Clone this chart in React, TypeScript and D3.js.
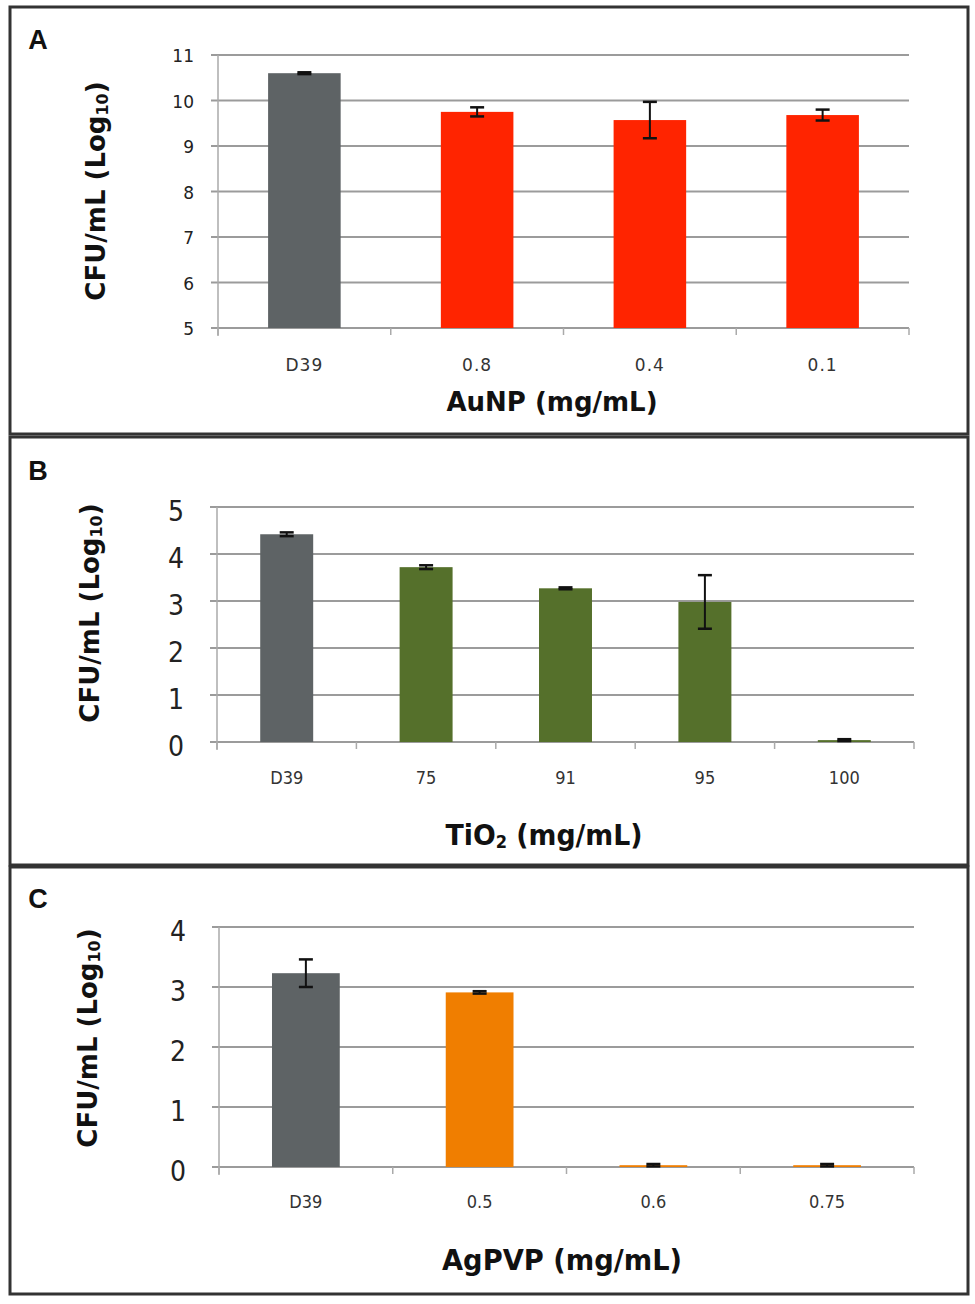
import React, { useEffect, useRef } from 'react';
import * as d3 from 'd3';

// Panel A - AuNP
const aCategories = ['D39', '0.8', '0.4', '0.1'];
const aMeans = [10.6, 9.75, 9.57, 9.68];
const aErrors = [0.02, 0.1, 0.4, 0.12];
const aTicks = [5, 6, 7, 8, 9, 10, 11];

// Panel B - TiO2
const bCategories = ['D39', '75', '91', '95', '100'];
const bMeans = [4.42, 3.72, 3.27, 2.98, 0.04];
const bErrors = [0.04, 0.04, 0.02, 0.57, 0.02];
const bTicks = [0, 1, 2, 3, 4, 5];

// Panel C - AgPVP
const cCategories = ['D39', '0.5', '0.6', '0.75'];
const cMeans = [3.23, 2.91, 0.03, 0.03];
const cErrors = [0.23, 0.02, 0.02, 0.02];
const cTicks = [0, 1, 2, 3, 4];

const controlColor = '#5e6365';

interface PanelSpec {
  letter: string;
  categories: string[];
  means: number[];
  errors: number[];
  ticks: number[];
  color: string;
  xTitle: string;
  xSub?: string;
  xTitleRest?: string;
  frame: [number, number];
  plotX: [number, number];
  plotY: [number, number];
  barPad: number;
  tickFont: number;
  tickFamily: string;
  tickX: number;
  catFont: number;
  catY: number;
  xTitlePos: [number, number];
  xTitleLen?: number;
  yTitlePos: [number, number];
  letterPos: [number, number];
}

const panels: PanelSpec[] = [
  {
    letter: 'A', categories: aCategories, means: aMeans, errors: aErrors, ticks: aTicks,
    color: '#ff2400', xTitle: 'AuNP (mg/mL)',
    frame: [7, 434], plotX: [218, 909], plotY: [55, 328], barPad: 0.58,
    tickFont: 17, tickFamily: "'DejaVu Sans', sans-serif", tickX: 194,
    catFont: 17, catY: 365, xTitlePos: [552, 402], yTitlePos: [96, 191], letterPos: [38, 40],
  },
  {
    letter: 'B', categories: bCategories, means: bMeans, errors: bErrors, ticks: bTicks,
    color: '#55702b', xTitle: 'TiO', xSub: '2', xTitleRest: ' (mg/mL)',
    frame: [437, 865], plotX: [217, 914], plotY: [507, 742], barPad: 0.62,
    tickFont: 28, tickFamily: "'DejaVu Sans Condensed', 'DejaVu Sans', sans-serif", tickX: 184,
    catFont: 18, catY: 777, xTitlePos: [544, 835], xTitleLen: 197, yTitlePos: [90, 613], letterPos: [38, 471],
  },
  {
    letter: 'C', categories: cCategories, means: cMeans, errors: cErrors, ticks: cTicks,
    color: '#f07e00', xTitle: 'AgPVP (mg/mL)',
    frame: [867, 1294], plotX: [219, 914], plotY: [927, 1167], barPad: 0.61,
    tickFont: 28, tickFamily: "'DejaVu Sans Condensed', 'DejaVu Sans', sans-serif", tickX: 186,
    catFont: 18, catY: 1201, xTitlePos: [562, 1260], xTitleLen: 240, yTitlePos: [88, 1038], letterPos: [38, 899],
  },
];

function drawPanel(svg: d3.Selection<SVGSVGElement, unknown, null, undefined>, p: PanelSpec) {
  const g = svg.append('g');

  // panel frame
  g.append('rect')
    .attr('x', 10)
    .attr('y', p.frame[0])
    .attr('width', 958)
    .attr('height', p.frame[1] - p.frame[0])
    .attr('fill', 'none')
    .attr('stroke', '#333')
    .attr('stroke-width', 3);

  g.append('text')
    .attr('x', p.letterPos[0])
    .attr('y', p.letterPos[1])
    .attr('text-anchor', 'middle')
    .attr('dominant-baseline', 'central')
    .attr('font-family', "'Liberation Sans', Arial, sans-serif")
    .attr('font-weight', 'bold')
    .attr('font-size', 27)
    .attr('fill', '#111')
    .text(p.letter);

  const x = d3
    .scaleBand<string>()
    .domain(p.categories)
    .range(p.plotX)
    .paddingInner(p.barPad)
    .paddingOuter(p.barPad / 2);

  const y = d3
    .scaleLinear()
    .domain([p.ticks[0], p.ticks[p.ticks.length - 1]])
    .range([p.plotY[1], p.plotY[0]]);

  // gridlines (extend left as ticks)
  g.selectAll('.grid')
    .data(p.ticks)
    .enter()
    .append('line')
    .attr('x1', p.plotX[0] - 7)
    .attr('x2', p.plotX[1])
    .attr('y1', (d) => y(d))
    .attr('y2', (d) => y(d))
    .attr('stroke', '#9b9b9b')
    .attr('stroke-width', 2);

  // y axis line
  g.append('line')
    .attr('x1', p.plotX[0])
    .attr('x2', p.plotX[0])
    .attr('y1', p.plotY[0])
    .attr('y2', p.plotY[1] + 8)
    .attr('stroke', '#aaa')
    .attr('stroke-width', 1.5);

  // x category boundary ticks
  const step = x.step();
  const bounds = d3.range(p.categories.length + 1).map((i) => p.plotX[0] + i * step);
  g.selectAll('.xtick')
    .data(bounds)
    .enter()
    .append('line')
    .attr('x1', (d) => d)
    .attr('x2', (d) => d)
    .attr('y1', p.plotY[1])
    .attr('y2', p.plotY[1] + 7)
    .attr('stroke', '#aaa')
    .attr('stroke-width', 1.5);

  // y tick labels
  g.selectAll('.ylab')
    .data(p.ticks)
    .enter()
    .append('text')
    .attr('x', p.tickX)
    .attr('y', (d) => y(d) + (p.tickFont > 20 ? 4 : 1))
    .attr('text-anchor', 'end')
    .attr('dominant-baseline', 'central')
    .attr('font-family', p.tickFamily)
    .attr('font-size', p.tickFont)
    .attr('fill', '#222')
    .text((d) => d);

  // bars
  const data = p.categories.map((c, i) => ({ c, m: p.means[i], e: p.errors[i] }));
  g.selectAll('.bar')
    .data(data)
    .enter()
    .append('rect')
    .attr('x', (d) => x(d.c) || 0)
    .attr('width', x.bandwidth())
    .attr('y', (d) => y(d.m))
    .attr('height', (d) => y(p.ticks[0]) - y(d.m))
    .attr('fill', (d, i) => (i === 0 ? controlColor : p.color));

  // error bars
  const eb = g.selectAll('.err').data(data).enter().append('g');
  const cx = (d: { c: string }) => (x(d.c) || 0) + x.bandwidth() / 2;
  eb.append('line')
    .attr('x1', cx)
    .attr('x2', cx)
    .attr('y1', (d) => y(d.m + d.e))
    .attr('y2', (d) => y(d.m - d.e))
    .attr('stroke', '#111')
    .attr('stroke-width', 2);
  [1, -1].forEach((s) => {
    eb.append('line')
      .attr('x1', (d) => cx(d) - 7)
      .attr('x2', (d) => cx(d) + 7)
      .attr('y1', (d) => y(d.m + s * d.e))
      .attr('y2', (d) => y(d.m + s * d.e))
      .attr('stroke', '#111')
      .attr('stroke-width', 2.5);
  });

  // category labels
  g.selectAll('.xlab')
    .data(p.categories)
    .enter()
    .append('text')
    .attr('x', (d) => (x(d) || 0) + x.bandwidth() / 2)
    .attr('y', p.catY)
    .attr('text-anchor', 'middle')
    .attr('dominant-baseline', 'central')
    .attr('font-family', p.tickFamily)
    .attr('font-size', p.catFont)
    .attr('letter-spacing', p.tickFont > 20 ? 0 : 1)
    .attr('fill', '#333')
    .text((d) => d);

  // x title
  const xt = g
    .append('text')
    .attr('x', p.xTitlePos[0])
    .attr('y', p.xTitlePos[1])
    .attr('text-anchor', 'middle')
    .attr('dominant-baseline', 'central')
    .attr('font-family', "'DejaVu Sans', sans-serif")
    .attr('font-weight', 'bold')
    .attr('font-size', p.xTitleLen ? 28 : 26)
    .attr('fill', '#111');
  if (p.xTitleLen) xt.attr('textLength', p.xTitleLen).attr('lengthAdjust', 'spacingAndGlyphs');
  xt.append('tspan').text(p.xTitle);
  if (p.xSub) {
    xt.append('tspan').attr('dy', 7).attr('font-size', 17).text(p.xSub);
    xt.append('tspan').attr('dy', -7).text(p.xTitleRest || '');
  }

  // y title
  const yt = g
    .append('text')
    .attr('transform', `translate(${p.yTitlePos[0]},${p.yTitlePos[1]}) rotate(-90)`)
    .attr('text-anchor', 'middle')
    .attr('dominant-baseline', 'central')
    .attr('font-family', "'DejaVu Sans', sans-serif")
    .attr('font-weight', 'bold')
    .attr('font-size', 26)
    .attr('fill', '#111');
  yt.append('tspan').text('CFU/mL (Log');
  yt.append('tspan').attr('dy', 6).attr('font-size', 16).text('10');
  yt.append('tspan').attr('dy', -6).text(')');
}

const App: React.FC = () => {
  const ref = useRef<SVGSVGElement | null>(null);

  useEffect(() => {
    if (!ref.current) return;
    const svg = d3.select(ref.current);
    svg.selectAll('*').remove();
    svg.append('rect').attr('width', 975).attr('height', 1304).attr('fill', '#fff');
    panels.forEach((p) => drawPanel(svg, p));
  }, []);

  return (
    <svg
      ref={ref}
      width={975}
      height={1304}
      style={{ position: 'absolute', left: 0, top: 0, display: 'block' }}
    ></svg>
  );
};

export default App;
